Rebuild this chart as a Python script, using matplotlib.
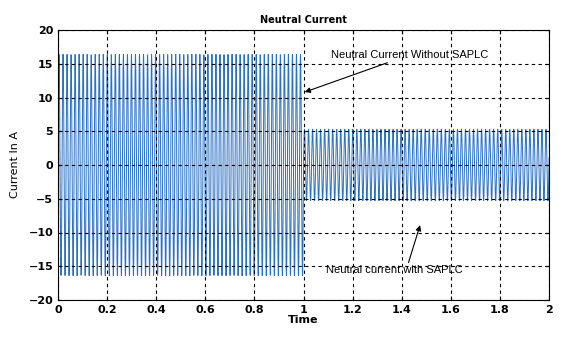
import numpy as np
import matplotlib.pyplot as plt

# values
t_switch = 1.0          # s, SAPLC switched on
peak_without = 16.4     # A
peak_with = 5.3         # A
freq = 61.0             # Hz, apparent oscillation in the plot
dt = 1.0 / 2000         # sample step of the simulation output
t_end = 2.0

xticks = [0, 0.2, 0.4, 0.6, 0.8, 1, 1.2, 1.4, 1.6, 1.8, 2]
xticklabels = ["0", "0.2", "0.4", "0.6", "0.8", "1", "1.2", "1.4", "1.6", "1.8", "2"]
yticks = [-20, -15, -10, -5, 0, 5, 10, 15, 20]

t = np.arange(0, t_end + dt, dt)
amp = np.where(t < t_switch, peak_without, peak_with)
current = amp * np.sin(2 * np.pi * freq * t)

fig = plt.figure(figsize=(5.61, 3.6), dpi=100)
ax = fig.add_axes([58 / 561, 60 / 360, 491 / 561, 270 / 360])

ax.plot(t, current, color="#2a70c4", lw=0.7)

ax.set_xlim(0, 2)
ax.set_ylim(-20, 20)
ax.set_xticks(xticks)
ax.set_xticklabels(xticklabels)
ax.set_yticks(yticks)
ax.tick_params(labelsize=8, direction="in", length=3, top=True, right=True)
for lab in ax.get_xticklabels() + ax.get_yticklabels():
    lab.set_fontweight("bold")
ax.set_axisbelow(False)
ax.grid(True, color="black", linestyle=(0, (3, 3)), linewidth=0.8)

ax.set_title("Neutral Current", fontsize=7, fontweight="bold", pad=5)
ax.set_xlabel("Time", fontsize=8, fontweight="bold", labelpad=0)
ax.set_ylabel("Current In A", fontsize=8, labelpad=6)

ax.annotate("Neutral Current Without SAPLC", xy=(1.005, 10.8), xytext=(1.11, 16.3),
            fontsize=8, family="Liberation Sans", va="center", ha="left",
            arrowprops=dict(arrowstyle="-|>", color="black", lw=0.8, shrinkA=0, shrinkB=0))
ax.annotate("Neutral current with SAPLC", xy=(1.475, -8.9), xytext=(1.09, -15.6),
            fontsize=8, family="Liberation Sans", va="center", ha="left",
            arrowprops=dict(arrowstyle="-|>", color="black", lw=0.8, shrinkA=0, shrinkB=0,
                            relpos=(0.6, 1.0)))

fig.savefig("out.png", dpi=100)
